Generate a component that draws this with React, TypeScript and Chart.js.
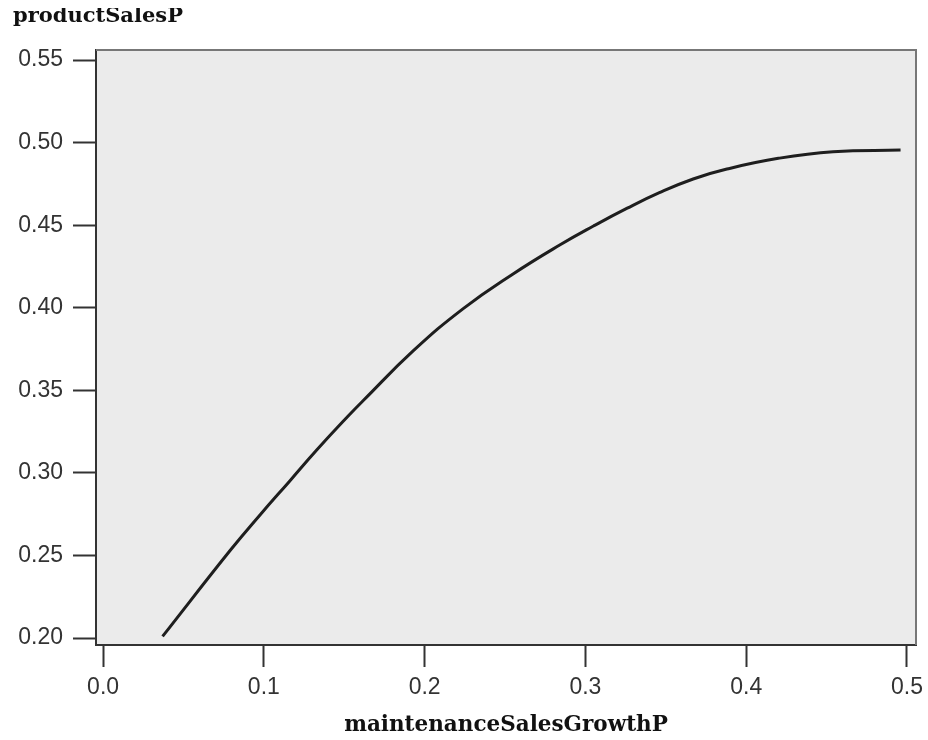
import React, { useEffect, useRef } from "react";
import { Chart, registerables } from "chart.js";

Chart.register(...registerables);

const chartTitle = "productSalesP";
const xAxisTitle = "maintenanceSalesGrowthP";

const xValues = [0.037, 0.079, 0.098, 0.116, 0.133, 0.152, 0.162, 0.193, 0.224, 0.255, 0.284, 0.305, 0.326, 0.346, 0.367, 0.388, 0.42, 0.454, 0.496];
const yValues = [0.201, 0.253, 0.275, 0.295, 0.314, 0.334, 0.344, 0.374, 0.3995, 0.4205, 0.438, 0.4495, 0.4603, 0.4697, 0.478, 0.484, 0.4905, 0.4945, 0.4955];

const xTicks = [0.0, 0.1, 0.2, 0.3, 0.4, 0.5];
const yTicks = [0.2, 0.25, 0.3, 0.35, 0.4, 0.45, 0.5, 0.55];

const xMin = -0.0044;
const xMax = 0.5056;
const yMin = 0.1958;
const yMax = 0.5561;

const plotFrame = {
  id: "plotFrame",
  beforeDraw(chart: any) {
    const { ctx, chartArea } = chart;
    ctx.save();
    ctx.fillStyle = "#ebebeb";
    ctx.fillRect(chartArea.left, chartArea.top, chartArea.right - chartArea.left, chartArea.bottom - chartArea.top);
    ctx.restore();
  },
  afterDraw(chart: any) {
    const { ctx, chartArea } = chart;
    ctx.save();
    ctx.strokeStyle = "#777";
    ctx.lineWidth = 2;
    ctx.beginPath();
    ctx.moveTo(chartArea.left, chartArea.top);
    ctx.lineTo(chartArea.right, chartArea.top);
    ctx.lineTo(chartArea.right, chartArea.bottom);
    ctx.stroke();
    ctx.restore();
  },
};

export default function App() {
  const ref = useRef<HTMLCanvasElement | null>(null);

  useEffect(() => {
    document.body.style.margin = "0";
    document.body.style.overflow = "hidden";
    const canvas = ref.current;
    if (!canvas) return;
    const tickFont = { family: "'Liberation Sans', Arial, sans-serif", size: 23 };
    const titleFontFamily = "'DejaVu Serif', 'Liberation Serif', serif";
    const chart = new Chart(canvas, {
      type: "scatter",
      data: {
        datasets: [
          {
            data: xValues.map((x, i) => ({ x, y: yValues[i] })),
            showLine: true,
            borderColor: "#1e1e1e",
            borderWidth: 3,
            pointRadius: 0,
            tension: 0.45,
            fill: false,
          },
        ],
      },
      options: {
        animation: false,
        responsive: false,
        maintainAspectRatio: false,
        layout: { padding: { left: 5, right: 12, top: 0, bottom: 0 } },
        plugins: {
          legend: { display: false },
          tooltip: { enabled: false },
          title: {
            display: true,
            text: chartTitle,
            align: "start",
            color: "#111",
            font: { family: titleFontFamily, size: 21, weight: "bold", lineHeight: 0.85 },
            padding: { top: 0, bottom: 24.15 },
          },
        },
        scales: {
          x: {
            type: "linear",
            min: xMin,
            max: xMax,
            afterBuildTicks: (scale: any) => {
              scale.ticks = xTicks.map((v) => ({ value: v }));
            },
            afterFit: (scale: any) => {
              scale.height = 95;
              scale.paddingLeft = 0;
              scale.paddingRight = 0;
            },
            ticks: {
              includeBounds: false,
              autoSkip: false,
              maxRotation: 0,
              padding: 7,
              color: "#333",
              font: tickFont,
              callback: (v: any) => Number(v).toFixed(1),
            },
            grid: {
              display: true,
              drawOnChartArea: false,
              drawTicks: true,
              tickLength: 22,
              tickColor: "#333",
              tickWidth: 2,
            },
            border: { display: true, color: "#333", width: 2 },
            title: {
              display: true,
              text: xAxisTitle,
              color: "#111",
              font: { family: titleFontFamily, size: 21.5, weight: "bold", lineHeight: 1.2 },
              padding: { top: 0, bottom: 2 },
            },
          },
          y: {
            type: "linear",
            min: yMin,
            max: yMax,
            afterBuildTicks: (scale: any) => {
              scale.ticks = yTicks.map((v) => ({ value: v }));
            },
            afterFit: (scale: any) => {
              scale.width = 83;
              scale.paddingTop = 0;
              scale.paddingBottom = 0;
            },
            ticks: {
              includeBounds: false,
              autoSkip: false,
              padding: 10,
              color: "#333",
              font: tickFont,
              callback: (v: any) => Number(v).toFixed(2),
            },
            grid: {
              display: true,
              drawOnChartArea: false,
              drawTicks: true,
              tickLength: 23,
              tickColor: "#333",
              tickWidth: 2,
            },
            border: { display: true, color: "#333", width: 2 },
          },
        },
      },
      plugins: [plotFrame],
    } as any);
    return () => chart.destroy();
  }, []);

  return (
    <div style={{ width: 928, height: 740, paddingLeft: 8, paddingTop: 8, boxSizing: "border-box" }}>
      <canvas ref={ref} width={920} height={732} style={{ display: "block" }} />
    </div>
  );
}
